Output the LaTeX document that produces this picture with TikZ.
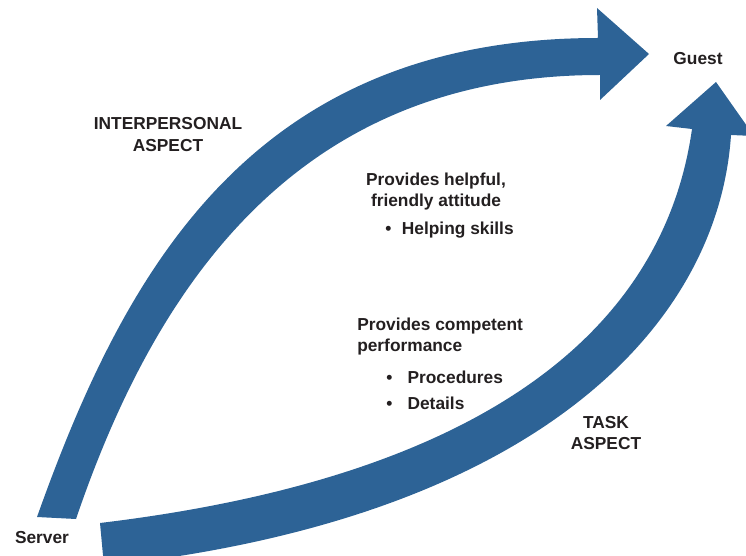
\documentclass[tikz,border=0pt]{standalone}
\usepackage{fontspec}
\setmainfont{Liberation Sans}
\usepackage{xcolor}
\definecolor{steel}{HTML}{2D6396}
\definecolor{ink}{HTML}{231F20}

\begin{document}
\begin{tikzpicture}[x=0.75pt, y=-0.75pt,
        bandArrow/.style={fill=steel, draw=none},
        boldText/.style={font=\fontsize{13}{16}\selectfont\bfseries, text=ink, inner sep=0pt},
        aspectLabel/.style={boldText, align=center, anchor=north},
        roleLabel/.style={boldText, anchor=base}
    ]
        \useasboundingbox (0,0) rectangle (746,556);
        \clip (0,0) rectangle (746,556);

        % Interpersonal arrow (Server -> Guest, upper)
        \fill[bandArrow] (37,517) .. controls (124,273) and (250,38) .. (598,38)
            -- (597,8) -- (649,54) -- (600,100) -- (600,75)
            .. controls (300,75) and (157,281) .. (76,519) -- cycle;

        % Task arrow (Server -> Guest, lower)
        \fill[bandArrow] (100,523) .. controls (500,475) and (665,320) .. (692,129)
            -- (666,126) -- (716,82) -- (754,136) -- (731,135)
            .. controls (718,330) and (530,520) .. (104,566) -- cycle;

        % End points
        \node[roleLabel] (server) at (42,543) {Server};
        \node[roleLabel] (guest) at (698,65) {Guest};

        % Aspects
        \node[aspectLabel] (interpersonal) at (168,117.5) {INTERPERSONAL\\ASPECT};
        \node[aspectLabel] (task) at (606,416) {TASK\\ASPECT};

        % Interpersonal contents
        \node[aspectLabel, font=\fontsize{13}{15.5}\selectfont\bfseries] (helpful) at (436,173) {Provides helpful,\\friendly attitude};
        \node[boldText, anchor=base west] (helping) at (385,234) {\makebox[12.5pt][l]{\textbullet}Helping skills};

        % Task contents
        \node[boldText, align=left, anchor=north west, font=\fontsize{13}{15.5}\selectfont\bfseries] (competent) at (357,318) {Provides competent\\performance};
        \node[boldText, align=left, anchor=north west] (procedures) at (386,370.5) {\makebox[16pt][l]{\textbullet}Procedures\\[3.5pt]\makebox[16pt][l]{\textbullet}Details};
    \end{tikzpicture}
\end{document}
